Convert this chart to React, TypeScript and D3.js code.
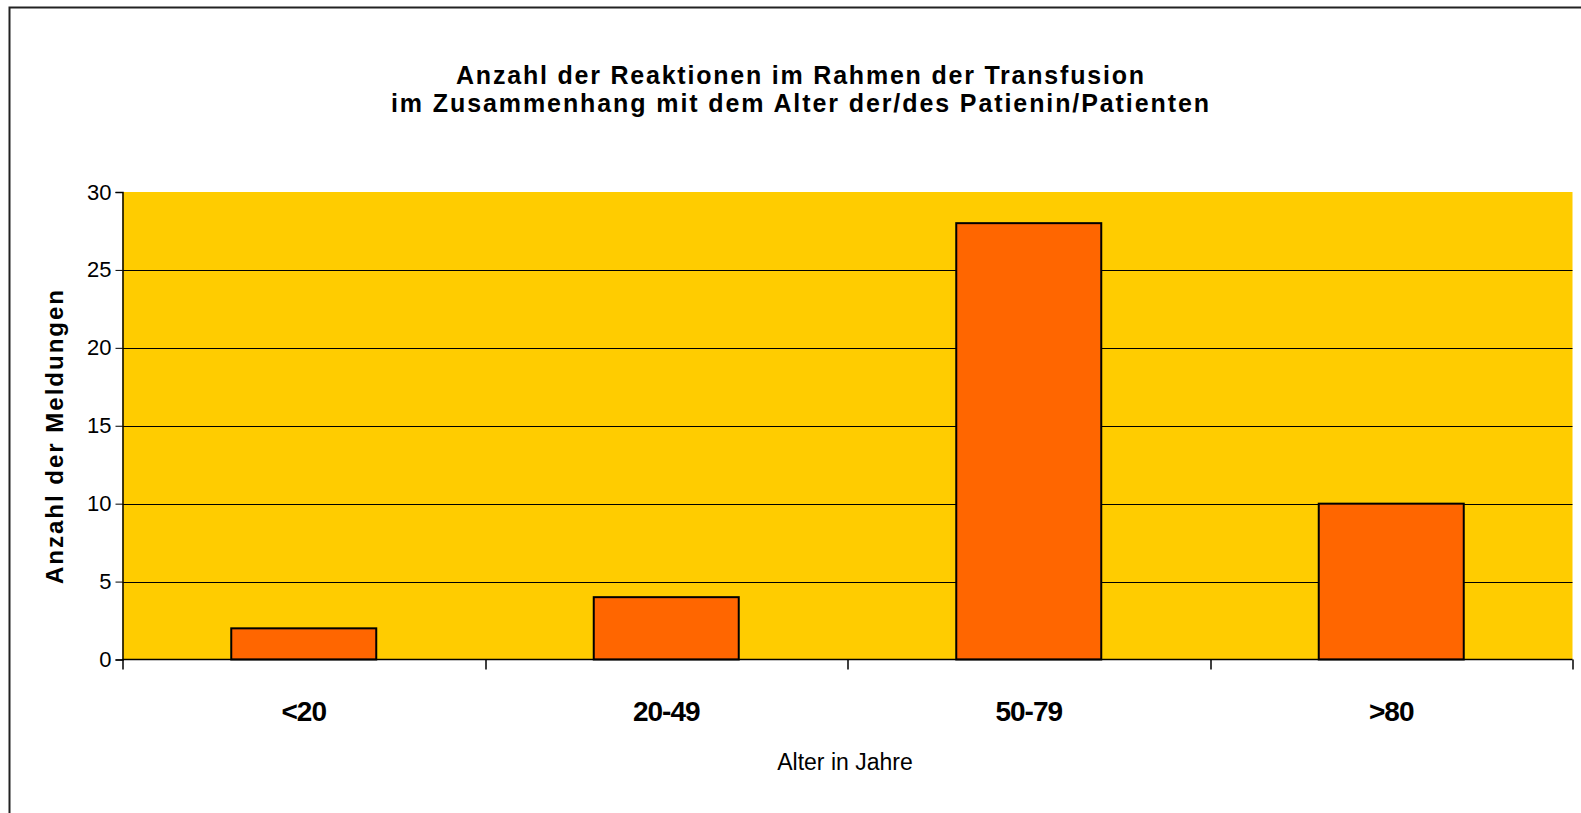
import React, { useEffect, useRef } from 'react';
import * as d3 from 'd3';

// Chart data.
const categories: string[] = ['<20', '20-49', '50-79', '>80'];
const counts: number[] = [2, 4, 28, 10];
const yTicks: number[] = [0, 5, 10, 15, 20, 25, 30];
const titleLines: string[] = [
    'Anzahl der Reaktionen im Rahmen der Transfusion',
    'im Zusammenhang mit dem Alter der/des Patienin/Patienten',
];
// measured widths of the two title lines in the original
const titleWidths: number[] = [688, 818];
const yTitle = 'Anzahl der Meldungen';
const xTitle = 'Alter in Jahre';

const FONT = '"Liberation Sans", Arial, sans-serif';

const App = () => {
    const svgRef = useRef<SVGSVGElement | null>(null);

    useEffect(() => {
        if (!svgRef.current) return;
        const svg = d3.select(svgRef.current);
        svg.selectAll('*').remove();

        const W = 1581;
        const H = 813;
        // plot area bounds
        const margin = { top: 192, right: 8.5, bottom: 153.5, left: 122.5 };
        const plotW = W - margin.left - margin.right;
        const plotH = H - margin.top - margin.bottom;

        // outer chart border (right and bottom edges run off the picture)
        svg.append('rect')
            .attr('x', 9.5)
            .attr('y', 7.5)
            .attr('width', 1640)
            .attr('height', 860)
            .attr('fill', '#fff')
            .attr('stroke', '#222')
            .attr('stroke-width', 2);

        // title, two centred lines
        svg.append('g')
            .selectAll('text')
            .data(titleLines)
            .enter().append('text')
            .attr('x', 800)
            .attr('y', (d, i) => 83.5 + i * 28)
            .attr('text-anchor', 'middle')
            .attr('textLength', (d, i) => titleWidths[i])
            .attr('lengthAdjust', 'spacing')
            .style('font-family', FONT)
            .style('font-size', '25px')
            .style('font-weight', 'bold')
            .style('fill', '#000')
            .text(d => d);

        const g = svg.append('g')
            .attr('transform', `translate(${margin.left},${margin.top})`);

        // scales
        const x = d3.scaleBand<string>()
            .domain(categories)
            .range([0, plotW])
            .padding(0);

        const y = d3.scaleLinear()
            .domain([0, 30])
            .range([plotH, 0]);

        // yellow plot background
        g.append('rect')
            .attr('width', plotW)
            .attr('height', plotH)
            .attr('fill', '#FFCC00');

        // horizontal grid lines
        g.append('g')
            .selectAll('line')
            .data(yTicks.filter(t => t > 0 && t < 30))
            .enter().append('line')
            .attr('x1', 0)
            .attr('x2', plotW)
            .attr('y1', d => Math.round(y(d)) + 0.5)
            .attr('y2', d => Math.round(y(d)) + 0.5)
            .attr('stroke', '#000')
            .attr('stroke-width', 1);

        // bars, 40% of the category width, centred
        const bw = x.bandwidth();
        g.selectAll('.bar')
            .data(categories)
            .enter().append('rect')
            .attr('class', 'bar')
            .attr('x', d => (x(d) as number) + bw * 0.3)
            .attr('y', (d, i) => y(counts[i]))
            .attr('width', bw * 0.4)
            .attr('height', (d, i) => plotH - y(counts[i]))
            .attr('fill', '#FF6600')
            .attr('stroke', '#000')
            .attr('stroke-width', 2);

        // y axis
        const yAxis = g.append('g')
            .call(d3.axisLeft(y).tickValues(yTicks).tickSize(7).tickPadding(4));
        yAxis.select('.domain').attr('stroke', '#000').attr('stroke-width', 1.5);
        yAxis.selectAll('.tick line').attr('stroke', '#000');
        yAxis.selectAll('.tick text')
            .style('font-family', FONT)
            .style('font-size', '22px')
            .style('fill', '#000');

        // x axis: ticks on category boundaries, labels at centres
        g.append('line')
            .attr('x1', 0)
            .attr('x2', plotW)
            .attr('y1', plotH)
            .attr('y2', plotH)
            .attr('stroke', '#000')
            .attr('stroke-width', 1.5);

        const bounds = categories.map(c => x(c) as number).concat([plotW]);
        g.append('g')
            .selectAll('line')
            .data(bounds)
            .enter().append('line')
            .attr('x1', d => Math.round(d) + 0.5)
            .attr('x2', d => Math.round(d) + 0.5)
            .attr('y1', plotH)
            .attr('y2', plotH + 10)
            .attr('stroke', '#000')
            .attr('stroke-width', 1.5);

        g.append('g')
            .selectAll('text')
            .data(categories)
            .enter().append('text')
            .attr('x', d => (x(d) as number) + bw / 2)
            .attr('y', plotH + 61)
            .attr('text-anchor', 'middle')
            .style('font-family', FONT)
            .style('font-size', '28px')
            .style('font-weight', 'bold')
            .style('letter-spacing', '-1px')
            .style('fill', '#000')
            .text(d => d);

        // axis titles
        svg.append('text')
            .attr('x', 845)
            .attr('y', 770)
            .attr('text-anchor', 'middle')
            .style('font-family', FONT)
            .style('font-size', '23px')
            .style('fill', '#000')
            .text(xTitle);

        svg.append('text')
            .attr('transform', `translate(63, 436) rotate(-90)`)
            .attr('text-anchor', 'middle')
            .style('font-family', FONT)
            .style('font-size', '24px')
            .style('font-weight', 'bold')
            .style('letter-spacing', '2px')
            .style('fill', '#000')
            .text(yTitle);
    }, []);

    return (
        <svg
            ref={svgRef}
            width={1581}
            height={813}
            style={{ position: 'absolute', left: 0, top: 0, background: '#fff' }}
        />
    );
};

export default App;
